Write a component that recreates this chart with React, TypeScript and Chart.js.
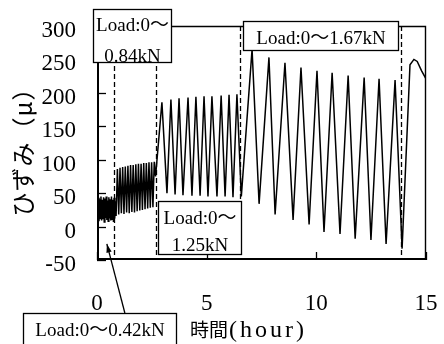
import React, { useEffect, useRef } from "react";
import { Chart, registerables } from "chart.js";

Chart.register(...registerables);

// ---- data (time in hours, strain in μ) ----
const load042Hours = [0.00, 0.03, 0.06, 0.09, 0.12, 0.15, 0.18, 0.21, 0.24, 0.27, 0.30, 0.33, 0.36, 0.39, 0.42, 0.45, 0.48, 0.51, 0.54, 0.57, 0.60, 0.63, 0.66, 0.69, 0.72, 0.75, 0.78, 0.81, 0.84, 0.87];
const load042Strain = [28, 10, 43, 8, 41, 12, 45, 9, 40, 11, 44, 7, 42, 13, 45, 10, 39, 8, 44, 12, 41, 9, 45, 11, 40, 7, 43, 12, 38, 16];

const load084Hours = [0.93, 0.99, 1.05, 1.11, 1.17, 1.23, 1.29, 1.35, 1.41, 1.47, 1.53, 1.59, 1.65, 1.71, 1.77, 1.83, 1.89, 1.95, 2.01, 2.07, 2.13, 2.19, 2.25, 2.31, 2.37, 2.43, 2.49, 2.55, 2.61, 2.67];
const load084Strain = [86, 18, 88, 20, 89, 19, 90, 21, 91, 20, 92, 22, 92, 21, 93, 23, 94, 24, 94, 25, 95, 26, 95, 27, 96, 28, 96, 29, 97, 75];

const load125Hours = [2.96, 3.19, 3.37, 3.56, 3.74, 3.92, 4.15, 4.33, 4.51, 4.70, 4.88, 5.06, 5.24, 5.47, 5.66, 5.84, 6.02, 6.20, 6.38, 6.58];
const load125Strain = [186, 50, 190, 48, 192, 47, 193, 46, 194, 46, 195, 45, 195, 45, 196, 45, 197, 44, 198, 45];

const load167Hours = [7.07, 7.39, 7.84, 8.12, 8.57, 8.94, 9.30, 9.67, 10.03, 10.35, 10.72, 11.08, 11.45, 11.77, 12.18, 12.49, 12.86, 13.18, 13.59, 13.91];
const load167Strain = [265, 34, 253, 18, 245, 10, 238, 3, 233, -8, 230, -11, 226, -18, 223, -20, 221, -26, 219, -33];

const afterHours = [14.27, 14.45, 14.60, 14.80, 15.00];
const afterStrain = [242, 250, 247, 233, 221];

const xTickValues = [0, 5, 10, 15];
const yTickValues = [-50, 0, 50, 100, 150, 200, 250, 300];

const dividerHours = [0.775, 2.69, 6.52, 13.86];

const xTitleKanji = "時間";
const xTitleUnit = "(hour)";
const yTitle = "ひずみ（μ）";

// annotation boxes, in data units (hours, μ)
const boxes = [
  { lines: ["Load:0〜", "0.84kN"], x0: -0.18, x1: 3.37, y0: 246, y1: 325, lineOffsets: [17, 48] },
  { lines: ["Load:0〜1.67kN"], x0: 6.66, x1: 13.73, y0: 264, y1: 307.5, lineOffsets: [18] },
  { lines: ["Load:0〜", "1.25kN"], x0: 2.78, x1: 6.57, y0: -41, y1: 38, lineOffsets: [18, 45] },
  { lines: ["Load:0〜0.42kN"], x0: -3.37, x1: 3.6, y0: -185, y1: -129.3, lineOffsets: [18] },
];
const arrow = { fromX: 1.27, fromY: -129.3, toX: 0.45, toY: -26 };

const SERIF = '"Liberation Serif", "Noto Sans CJK JP", serif';

function buildPoints() {
  const hs = [...load042Hours, ...load084Hours, ...load125Hours, ...load167Hours, ...afterHours];
  const ss = [...load042Strain, ...load084Strain, ...load125Strain, ...load167Strain, ...afterStrain];
  return hs.map((h, i) => ({ x: h, y: ss[i] }));
}

const overlay = {
  id: "overlay",
  afterDatasetsDraw(chart: any) {
    const { ctx, chartArea: ca, scales } = chart;
    const xs = scales.x;
    const ys = scales.y;
    const px = (v: number) => xs.getPixelForValue(v);
    const py = (v: number) => ys.getPixelForValue(v);
    ctx.save();
    ctx.strokeStyle = "#000";
    ctx.fillStyle = "#000";

    // dashed dividers
    ctx.setLineDash([5, 3]);
    ctx.lineWidth = 1.3;
    dividerHours.forEach((h) => {
      const xx = Math.round(px(h)) + 0.5;
      ctx.beginPath();
      ctx.moveTo(xx, ca.top);
      ctx.lineTo(xx, ca.bottom);
      ctx.stroke();
    });
    ctx.setLineDash([]);

    // frame
    ctx.lineWidth = 1.4;
    ctx.beginPath();
    ctx.moveTo(ca.left, ca.top + 0.5);
    ctx.lineTo(ca.right - 0.5, ca.top + 0.5);
    ctx.lineTo(ca.right - 0.5, ca.bottom);
    ctx.stroke();
    ctx.lineWidth = 2;
    ctx.beginPath();
    ctx.moveTo(ca.left + 1, ca.top);
    ctx.lineTo(ca.left + 1, ca.bottom - 1);
    ctx.lineTo(ca.right, ca.bottom - 1);
    ctx.stroke();

    // inward ticks
    ctx.lineWidth = 1.3;
    yTickValues.forEach((v) => {
      const yy = Math.round(py(v)) + 0.5;
      ctx.beginPath();
      ctx.moveTo(ca.left, yy);
      ctx.lineTo(ca.left + 9, yy);
      ctx.stroke();
    });
    xTickValues.forEach((v) => {
      const xx = Math.round(px(v)) + 0.5;
      ctx.beginPath();
      ctx.moveTo(xx, ca.bottom);
      ctx.lineTo(xx, ca.bottom - 8);
      ctx.stroke();
    });

    // arrow
    const ax0 = px(arrow.fromX), ay0 = py(arrow.fromY);
    const ax1 = px(arrow.toX), ay1 = py(arrow.toY);
    ctx.lineWidth = 1.3;
    ctx.beginPath();
    ctx.moveTo(ax0, ay0);
    ctx.lineTo(ax1, ay1);
    ctx.stroke();
    const ang = Math.atan2(ay1 - ay0, ax1 - ax0);
    ctx.beginPath();
    ctx.moveTo(ax1, ay1);
    ctx.lineTo(ax1 - 9 * Math.cos(ang - 0.3), ay1 - 9 * Math.sin(ang - 0.3));
    ctx.lineTo(ax1 - 9 * Math.cos(ang + 0.3), ay1 - 9 * Math.sin(ang + 0.3));
    ctx.closePath();
    ctx.fill();

    // boxes
    ctx.font = "19px " + SERIF;
    ctx.textAlign = "center";
    ctx.textBaseline = "middle";
    boxes.forEach((b) => {
      const l = Math.round(px(b.x0)) + 0.5;
      const r = Math.round(px(b.x1)) + 0.5;
      const t = Math.round(py(b.y1)) + 0.5;
      const bt = Math.round(py(b.y0)) + 0.5;
      ctx.fillStyle = "#fff";
      ctx.fillRect(l, t, r - l, bt - t);
      ctx.lineWidth = 1.3;
      ctx.strokeStyle = "#000";
      ctx.strokeRect(l, t, r - l, bt - t);
      ctx.fillStyle = "#000";
      b.lines.forEach((s, i) => {
        ctx.fillText(s, (l + r) / 2, t + b.lineOffsets[i]);
      });
    });

    // x title
    ctx.textAlign = "left";
    ctx.textBaseline = "middle";
    ctx.font = '19px "Noto Sans CJK JP", sans-serif';
    ctx.fillText(xTitleKanji, 190, 330);
    ctx.font = '24px "Liberation Serif", serif';
    (ctx as any).letterSpacing = "3px";
    ctx.fillText(xTitleUnit, 229, 331);
    (ctx as any).letterSpacing = "0px";

    // y title
    ctx.save();
    ctx.translate(23, 146);
    ctx.rotate(-Math.PI / 2);
    ctx.textAlign = "center";
    ctx.font = '24px "Noto Sans CJK JP", sans-serif';
    (ctx as any).letterSpacing = "1px";
    ctx.fillText(yTitle, 0, 0);
    (ctx as any).letterSpacing = "0px";
    ctx.restore();

    ctx.restore();
  },
};

export default function App() {
  const ref = useRef<HTMLCanvasElement>(null);
  useEffect(() => {
    if (!ref.current) return;
    const tickFont = { family: SERIF, size: 23 };
    const chart = new Chart(ref.current, {
      type: "line",
      data: {
        datasets: [
          {
            data: buildPoints(),
            borderColor: "#000",
            borderWidth: 1.5,
            pointRadius: 0,
            tension: 0,
            fill: false,
          },
        ],
      },
      options: {
        animation: false,
        responsive: false,
        maintainAspectRatio: false,
        devicePixelRatio: 1,
        layout: { padding: { left: 0, right: 18, top: 26, bottom: 0 } },
        plugins: { legend: { display: false }, tooltip: { enabled: false }, title: { display: false } },
        scales: {
          x: {
            type: "linear",
            min: 0,
            max: 15,
            afterBuildTicks: (s: any) => {
              s.ticks = xTickValues.map((v) => ({ value: v }));
            },
            grid: { display: false, drawTicks: false },
            border: { display: false },
            ticks: { font: tickFont, color: "#000", padding: 30, maxRotation: 0, autoSkip: false },
            afterFit: (s: any) => {
              s.height = 84;
              s.paddingLeft = 0;
              s.paddingRight = 0;
            },
          },
          y: {
            type: "linear",
            min: -50,
            max: 300,
            afterBuildTicks: (s: any) => {
              s.ticks = yTickValues.map((v) => ({ value: v }));
            },
            grid: { display: false, drawTicks: false },
            border: { display: false },
            ticks: { font: tickFont, color: "#000", padding: 21, labelOffset: 5, autoSkip: false },
            afterFit: (s: any) => {
              s.width = 97;
              s.paddingTop = 0;
              s.paddingBottom = 0;
            },
          },
        },
      } as any,
      plugins: [overlay],
    });
    return () => chart.destroy();
  }, []);
  return (
    <div style={{ position: "fixed", left: 0, top: 0, width: 444, height: 344, background: "#fff" }}>
      <canvas ref={ref} width={444} height={344} style={{ display: "block" }} />
    </div>
  );
}
